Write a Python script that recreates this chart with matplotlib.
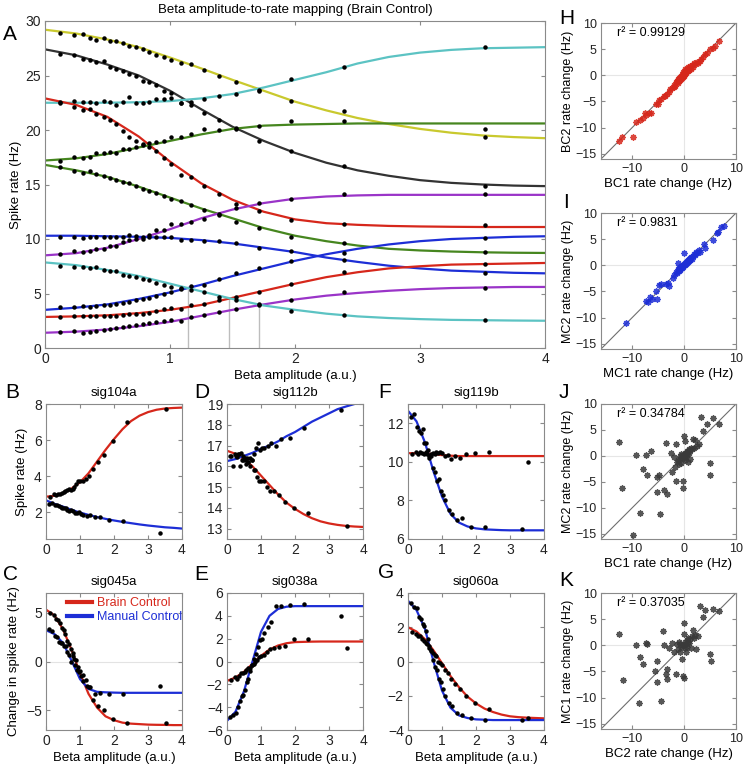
import matplotlib
matplotlib.use('Agg')
import matplotlib.pyplot as plt
from matplotlib.lines import Line2D

plt.rcParams['font.family'] = ['Liberation Sans', 'DejaVu Sans']

# ---- shared x positions ----
fit_x = [0, 0.25, 0.5, 0.75, 1.0, 1.25, 1.5, 1.75, 2.0, 2.25, 2.5, 2.75, 3.0, 3.25, 3.5, 3.75, 4.0]
bc_x = [0.12, 0.23, 0.30, 0.36, 0.41, 0.47, 0.52, 0.57, 0.62, 0.67, 0.73, 0.78, 0.83,
        0.89, 0.95, 1.01, 1.09, 1.17, 1.27, 1.39, 1.53, 1.71, 1.97, 2.39, 3.52]
mc_x = [0.10, 0.18, 0.25, 0.31, 0.37, 0.43, 0.48, 0.53, 0.58, 0.63, 0.68, 0.73, 0.78,
        0.84, 0.90, 0.96, 1.03, 1.10, 1.20, 1.30, 1.45, 1.60, 1.85, 2.27, 3.35]

# ---- panel A: fitted curves and binned rates ----
a_yellow_fit = [29.2, 28.85, 28.3, 27.6, 26.65, 25.65, 24.6, 23.6, 22.6, 21.8, 21.1, 20.55, 20.1, 19.75, 19.5, 19.35, 19.25]
a_yellow_pts = [28.9, 28.7, 28.8, 28.4, 28.3, 28.4, 28.2, 28.15, 28.0, 27.7, 27.65, 27.45, 27.2,
                26.9, 26.7, 26.45, 26.15, 26.05, 25.5, 25.0, 24.4, 23.7, 22.7, 21.7, 19.4]
a_black_fit = [27.4, 26.85, 26.0, 25.0, 23.6, 21.9, 20.3, 19.0, 17.9, 17.0, 16.3, 15.8, 15.4, 15.15, 15.0, 14.9, 14.85]
a_black_pts = [27.0, 26.85, 26.5, 26.4, 26.2, 26.3, 25.8, 25.6, 25.45, 25.1, 25.0, 24.5, 24.4,
               24.1, 23.55, 23.4, 22.5, 22.3, 21.6, 20.95, 20.1, 19.0, 18.1, 16.7, 14.9]
a_cyan1_fit = [22.5, 22.5, 22.5, 22.55, 22.65, 22.9, 23.3, 23.9, 24.6, 25.3, 26.1, 26.7, 27.1, 27.35, 27.5, 27.55, 27.6]
a_cyan1_pts = [22.5, 22.7, 22.6, 22.6, 22.5, 22.7, 22.6, 22.3, 22.6, 23.0, 22.5, 22.5, 22.6,
               22.85, 22.8, 22.9, 22.5, 22.6, 22.8, 23.1, 23.3, 23.6, 24.7, 25.8, 27.6]
a_red1_fit = [22.9, 22.3, 21.2, 19.4, 17.1, 15.1, 13.6, 12.5, 11.8, 11.45, 11.3, 11.2, 11.15, 11.12, 11.1, 11.1, 11.1]
a_red1_pts = [22.6, 22.15, 21.8, 21.9, 21.5, 21.2, 20.9, 20.55, 19.9, 19.4, 19.0, 18.7, 18.4,
              18.1, 17.4, 16.9, 15.9, 15.7, 14.9, 14.1, 13.2, 12.6, 11.7, 11.35, 11.3]
a_green1_fit = [17.2, 17.4, 17.8, 18.4, 19.0, 19.6, 20.1, 20.4, 20.5, 20.55, 20.6, 20.6, 20.6, 20.6, 20.6, 20.6, 20.6]
a_green1_pts = [17.2, 17.55, 17.4, 17.5, 17.9, 17.9, 18.0, 17.9, 18.25, 18.3, 18.4, 18.65, 18.8,
                18.9, 19.0, 19.4, 19.4, 19.6, 20.05, 20.0, 20.2, 20.35, 20.8, 20.85, 20.1]
a_green2_fit = [16.8, 16.3, 15.7, 14.8, 13.8, 12.8, 11.9, 11.0, 10.3, 9.8, 9.4, 9.1, 8.95, 8.85, 8.78, 8.74, 8.72]
a_green2_pts = [16.6, 16.2, 16.1, 16.2, 16.0, 15.8, 15.6, 15.4, 15.25, 15.1, 14.85, 14.6, 14.4,
                14.2, 13.9, 13.7, 13.5, 13.1, 12.7, 12.3, 11.6, 11.0, 10.2, 9.6, 8.8]
a_purple1_fit = [8.5, 8.7, 9.2, 10.0, 10.9, 11.9, 12.7, 13.3, 13.7, 13.9, 14.0, 14.05, 14.05, 14.05, 14.05, 14.05, 14.05]
a_purple1_pts = [8.6, 8.9, 8.8, 8.9, 9.1, 9.1, 9.4, 9.4, 9.7, 9.9, 10.0, 10.2, 10.4,
                 10.8, 10.8, 11.4, 11.4, 11.6, 11.8, 12.2, 12.8, 13.3, 13.7, 14.1, 14.1]
a_blue1_fit = [10.3, 10.3, 10.25, 10.2, 10.1, 9.9, 9.6, 9.2, 8.8, 8.3, 7.9, 7.55, 7.3, 7.1, 7.0, 6.9, 6.85]
a_blue1_pts = [10.2, 10.2, 10.1, 10.2, 10.2, 10.2, 10.2, 10.15, 10.2, 10.4, 10.3, 10.0, 10.2,
               10.2, 10.2, 10.2, 9.9, 9.9, 9.8, 9.8, 9.6, 9.2, 8.9, 8.05, 6.85]
a_blue2_fit = [3.5, 3.7, 4.0, 4.5, 5.1, 5.8, 6.6, 7.3, 8.0, 8.6, 9.1, 9.5, 9.8, 10.0, 10.1, 10.2, 10.25]
a_blue2_pts = [3.75, 3.8, 3.85, 3.8, 3.85, 3.9, 3.95, 4.0, 4.1, 4.25, 4.4, 4.5, 4.6,
               4.8, 5.0, 5.1, 5.5, 5.7, 5.8, 6.3, 6.85, 7.3, 8.0, 8.75, 10.1]
a_red2_fit = [2.85, 2.9, 3.0, 3.2, 3.5, 3.95, 4.6, 5.25, 5.9, 6.5, 6.95, 7.3, 7.5, 7.65, 7.7, 7.75, 7.8]
a_red2_pts = [2.8, 2.9, 2.9, 2.9, 2.9, 2.95, 2.95, 2.95, 3.05, 3.1, 3.1, 3.1, 3.25,
              3.4, 3.6, 3.7, 3.6, 3.9, 4.0, 4.4, 4.65, 5.1, 5.9, 7.0, 7.7]
a_purple2_fit = [1.4, 1.5, 1.7, 2.0, 2.4, 2.95, 3.5, 4.0, 4.45, 4.8, 5.05, 5.25, 5.4, 5.5, 5.55, 5.6, 5.6]
a_purple2_pts = [1.5, 1.55, 1.4, 1.5, 1.6, 1.65, 1.75, 1.85, 1.95, 2.0, 2.1, 2.2, 2.25,
                 2.4, 2.5, 2.6, 2.5, 2.85, 3.0, 3.3, 3.6, 3.95, 4.4, 5.1, 5.55]
a_cyan2_fit = [7.85, 7.6, 7.15, 6.6, 5.9, 5.2, 4.5, 3.9, 3.5, 3.15, 2.9, 2.75, 2.65, 2.58, 2.55, 2.52, 2.5]
a_cyan2_pts = [7.5, 7.4, 7.4, 7.35, 7.4, 7.15, 7.1, 7.1, 6.7, 6.6, 6.5, 6.3, 6.25,
               6.0, 5.75, 5.6, 5.4, 5.3, 5.15, 4.7, 4.4, 4.0, 3.4, 3.0, 2.55]
cross_x = [1.14, 1.47, 1.71]
cross_y = [5.45, 4.55, 3.95]

# ---- panels B-G: brain control (red) vs manual control (blue) ----
b_bc_fit = [2.85, 2.9, 3.05, 3.3, 3.65, 4.15, 4.8, 5.45, 6.05, 6.6, 7.05, 7.35, 7.55, 7.68, 7.75, 7.78, 7.8]
b_bc_pts = [2.85, 3.0, 2.95, 3.0, 3.0, 3.05, 3.1, 3.15, 3.25, 3.3, 3.2, 3.3, 3.4,
            3.55, 3.7, 3.75, 3.7, 3.85, 4.0, 4.4, 4.8, 5.15, 5.95, 7.0, 7.7]
b_mc_fit = [2.65, 2.45, 2.3, 2.12, 1.97, 1.84, 1.72, 1.62, 1.53, 1.45, 1.38, 1.31, 1.25, 1.2, 1.15, 1.12, 1.08]
b_mc_pts = [2.45, 2.5, 2.4, 2.4, 2.35, 2.3, 2.25, 2.2, 2.2, 2.1, 2.05, 2.1, 2.05,
            1.95, 1.95, 2.0, 1.9, 1.85, 1.8, 1.85, 1.75, 1.7, 1.55, 1.5, 0.85]

c_bc_fit = [5.3, 4.7, 3.3, 1.2, -1.2, -3.3, -4.7, -5.6, -6.0, -6.25, -6.35, -6.4, -6.45, -6.47, -6.48, -6.5, -6.5]
c_bc_pts = [5.0, 4.8, 4.3, 4.2, 3.9, 3.4, 3.2, 2.8, 2.1, 1.8, 1.3, 0.9, 0.3,
            0.2, -0.6, -1.0, -1.4, -1.9, -2.6, -3.9, -4.5, -5.0, -5.9, -6.3, -6.3]
c_mc_fit = [3.2, 2.8, 1.9, 0.1, -1.8, -2.8, -3.1, -3.15, -3.18, -3.2, -3.2, -3.2, -3.2, -3.2, -3.2, -3.2, -3.2]
c_mc_pts = [3.3, 3.1, 2.6, 2.5, 2.0, 1.9, 1.9, 1.6, 1.6, 1.0, 0.7, -0.1, 0.6,
            -0.4, -0.9, -1.1, -1.5, -2.0, -2.5, -2.6, -3.3, -3.2, -3.3, -3.3, -2.5]

d_bc_fit = [16.75, 16.6, 16.35, 16.0, 15.55, 15.1, 14.65, 14.25, 13.95, 13.7, 13.5, 13.35, 13.25, 13.18, 13.13, 13.1, 13.08]
d_bc_pts = [16.5, 16.6, 16.45, 16.6, 16.65, 16.3, 16.4, 16.1, 16.2, 16.0, 16.3, 15.8, 15.8,
            15.5, 15.3, 15.3, 15.3, 15.0, 14.8, 14.8, 14.6, 14.3, 14.0, 13.75, 13.15]
d_mc_fit = [16.25, 16.35, 16.5, 16.65, 16.85, 17.0, 17.2, 17.45, 17.65, 17.9, 18.15, 18.35, 18.55, 18.75, 18.88, 19.0, 19.15]
d_mc_pts = [16.5, 16.0, 16.5, 16.6, 16.0, 16.3, 16.5, 16.3, 16.4, 16.2, 16.4, 16.3, 16.6,
            16.9, 17.1, 16.8, 16.9, 16.9, 17.0, 17.1, 17.0, 17.3, 17.35, 17.85, 18.7]

e_bc_fit = [-1.7, -1.4, -0.9, -0.2, 0.5, 1.05, 1.4, 1.6, 1.7, 1.72, 1.74, 1.75, 1.75, 1.75, 1.75, 1.75, 1.75]
e_bc_pts = [-1.6, -1.4, -1.5, -1.3, -1.0, -1.0, -0.9, -0.75, -0.6, -0.55, -0.3, -0.2, 0.0,
            0.1, 0.4, 0.5, 0.6, 0.85, 1.1, 1.2, 1.25, 1.4, 1.95, 2.0, 1.2]
e_mc_fit = [-5.2, -4.4, -2.6, 0.0, 2.6, 4.0, 4.6, 4.8, 4.85, 4.85, 4.85, 4.85, 4.85, 4.85, 4.85, 4.85, 4.85]
e_mc_pts = [-4.9, -4.7, -4.5, -4.0, -3.5, -3.0, -2.9, -2.5, -1.8, -1.5, -0.8, -0.3, 0.2,
            0.7, 1.3, 1.9, 2.0, 2.5, 3.0, 3.5, 4.9, 4.85, 4.95, 5.0, 4.0]

f_bc_fit = [10.45, 10.45, 10.45, 10.4, 10.35, 10.32, 10.3, 10.3, 10.3, 10.3, 10.3, 10.3, 10.3, 10.3, 10.3, 10.3, 10.3]
f_bc_pts = [10.4, 10.5, 10.4, 10.5, 10.45, 10.4, 10.5, 10.4, 10.3, 10.4, 10.45, 10.4, 10.5,
            10.45, 10.5, 10.45, 10.3, 10.35, 10.15, 10.3, 10.2, 10.4, 10.45, 10.5, 10.0]
f_mc_fit = [12.65, 12.1, 11.0, 9.5, 8.2, 7.3, 6.85, 6.65, 6.55, 6.5, 6.48, 6.46, 6.45, 6.45, 6.45, 6.45, 6.45]
f_mc_pts = [12.3, 12.5, 11.8, 11.6, 11.5, 11.7, 11.0, 11.0, 10.6, 10.2, 10.3, 9.7, 9.5,
            9.0, 9.1, 8.5, 8.3, 8.0, 7.5, 7.3, 7.0, 7.1, 6.6, 6.6, 6.5]

g_bc_fit = [2.0, 1.75, 1.3, 0.65, -0.1, -0.85, -1.5, -2.05, -2.45, -2.75, -2.95, -3.1, -3.2, -3.25, -3.28, -3.3, -3.32]
g_bc_pts = [1.7, 1.6, 1.5, 1.5, 1.3, 1.2, 1.1, 1.0, 0.8, 0.7, 0.5, 0.4, 0.3,
            0.0, -0.1, -0.2, -0.5, -0.7, -1.0, -1.3, -1.6, -2.0, -2.4, -2.8, -3.3]
g_mc_fit = [3.55, 3.0, 1.9, 0.0, -1.7, -2.7, -3.15, -3.3, -3.38, -3.4, -3.42, -3.42, -3.42, -3.42, -3.42, -3.42, -3.42]
g_mc_pts = [3.4, 3.2, 3.1, 2.6, 2.5, 2.2, 2.1, 1.8, 1.3, 0.9, 0.6, 0.1, -0.3,
            -0.5, -1.0, -1.2, -1.6, -2.0, -2.4, -2.6, -3.0, -3.1, -3.3, -3.4, -3.4]

# ---- panels H-K: rate change comparisons (x, y) ----
h_pts = [(-12.6, -12.6), (-11.9, -11.7), (-9.8, -11.7), (-9.2, -9.0), (-8.4, -8.5), (-8.0, -8.2),
         (-7.6, -7.3), (-7.3, -7.6), (-6.8, -7.2), (-6.4, -7.3), (-5.4, -5.4), (-5.1, -5.5),
         (-4.8, -4.7), (-4.4, -4.5), (-3.9, -4.0), (-3.7, -3.9), (-3.3, -3.6), (-3.0, -3.2),
         (-2.7, -2.6), (-2.3, -2.4), (-2.0, -2.2), (-1.9, -1.8), (-1.7, -2.0), (-1.5, -1.3),
         (-1.4, -1.0), (-1.2, -1.4), (-1.1, -0.8), (-1.0, -1.1), (-0.9, -0.6), (-0.8, -0.9),
         (-0.7, -0.4), (-0.6, -0.7), (-0.5, -0.2), (-0.45, -0.6), (-0.4, 0.1), (-0.3, -0.3),
         (-0.25, 0.3), (-0.2, -0.1), (-0.15, 0.6), (-0.1, 0.2), (-0.05, -0.2), (0.0, 0.5),
         (0.05, 0.0), (0.1, 0.9), (0.15, 0.3), (0.2, 1.3), (0.25, 0.6), (0.3, 1.0), (0.4, 0.5),
         (0.5, 0.9), (0.6, 1.2), (0.7, 0.8), (0.8, 1.6), (0.9, 1.0), (1.0, 1.4), (1.1, 1.8),
         (1.3, 1.3), (1.5, 2.0), (1.7, 1.6), (1.9, 2.3), (2.1, 2.1), (2.4, 2.5), (2.7, 2.3),
         (3.0, 2.8), (3.3, 3.2), (3.7, 3.5), (4.0, 4.0), (4.5, 4.3), (5.0, 5.0), (5.6, 5.2),
         (6.0, 5.6), (6.8, 6.6)]
i_pts = [(-11.2, -11.0), (-7.4, -6.8), (-7.0, -7.1), (-6.6, -6.1), (-6.2, -6.4), (-5.4, -5.0),
         (-5.3, -6.5), (-4.9, -3.8), (-4.4, -3.6), (-3.4, -3.6), (-3.1, -3.3), (-3.0, -4.0),
         (-2.2, -2.4), (-2.0, -1.9), (-1.6, -1.2), (-1.4, -1.5), (-1.2, 0.4), (-1.1, -0.8),
         (-1.0, -1.1), (-0.9, -0.5), (-0.8, -0.9), (-0.7, -0.3), (-0.6, -0.6), (-0.5, -0.1),
         (-0.4, -0.5), (-0.3, 0.1), (-0.2, -0.3), (-0.1, 0.3), (0.0, 2.4), (0.0, 0.0), (0.1, 0.4),
         (0.2, 0.1), (0.3, 0.6), (0.4, 0.3), (0.5, 0.8), (0.6, 0.5), (0.7, 1.0), (0.8, 0.7),
         (0.9, 1.2), (1.0, 0.9), (1.1, 1.4), (1.2, 1.1), (1.4, 1.6), (1.5, 1.3), (1.7, 1.8),
         (1.9, 2.1), (2.1, 1.9), (2.2, 2.6), (2.5, 2.3), (2.8, 2.9), (3.0, 2.5), (3.8, 4.0),
         (4.0, 3.3), (5.5, 4.8), (6.4, 6.1), (6.6, 6.3), (7.2, 7.3), (7.6, 7.6)]
j_pts = [(-12.6, 2.6), (-11.9, -6.2), (-9.8, -15.2), (-9.2, 0.1), (-8.5, -10.9), (-7.9, -2.6),
         (-7.4, 0.1), (-7.1, -3.7), (-6.4, 1.0), (-5.3, -4.0), (-5.2, -7.0), (-4.8, -3.6),
         (-4.6, -11.2), (-3.9, -6.6), (-3.4, 2.4), (-3.3, -7.3), (-2.6, 0.6), (-2.3, -3.1),
         (-2.0, -0.2), (-1.8, -2.1), (-1.6, 2.3), (-1.5, -4.9), (-1.3, -1.1), (-1.1, -0.7),
         (-1.0, -1.6), (-0.8, 0.0), (-0.7, -0.6), (-0.6, -1.3), (-0.5, 0.4), (-0.4, -0.3),
         (-0.3, -4.9), (-0.3, -6.1), (-0.2, 0.2), (-0.1, -0.4), (0.0, 0.0), (0.0, 3.9),
         (0.1, 0.5), (0.1, -0.8), (0.2, 2.8), (0.3, 0.3), (0.4, -0.2), (0.5, 1.0), (0.6, 0.4),
         (0.7, -1.2), (0.8, 0.9), (0.9, 1.4), (1.0, 0.6), (1.1, 1.2), (1.2, -0.6), (1.4, 1.5),
         (1.6, 1.3), (1.8, 3.2), (2.0, 1.6), (2.1, 3.1), (2.5, 2.0), (2.8, 2.3), (3.2, 7.5),
         (3.6, 4.8), (4.4, 6.1), (5.0, -1.4), (5.0, -3.7), (5.6, 7.4), (6.8, 6.2)]
k_pts = [(-12.6, 2.2), (-11.8, -6.7), (-9.2, 0.1), (-8.6, -11.0), (-8.4, -2.2), (-7.9, -3.6),
         (-7.4, 0.4), (-7.2, 0.2), (-5.6, -5.0), (-5.3, -3.0), (-5.2, -7.0), (-4.4, -10.6),
         (-4.0, 2.8), (-3.8, 0.0), (-3.5, -5.4), (-3.2, -4.5), (-3.2, -6.4), (-2.9, -0.6),
         (-2.4, 0.5), (-2.0, -1.2), (-1.6, -5.5), (-1.4, 0.2), (-1.2, -0.8), (-1.0, 0.6),
         (-0.8, -1.3), (-0.7, 0.3), (-0.5, -0.4), (-0.4, -2.6), (-0.3, 0.1), (-0.3, -5.9),
         (-0.1, -6.2), (-0.1, 4.3), (0.0, 0.0), (0.0, 2.1), (0.1, -0.5), (0.2, 0.6), (0.3, -1.3),
         (0.4, 0.3), (0.5, 1.0), (0.6, -0.3), (0.7, 0.7), (0.8, 1.4), (1.0, 0.4), (1.1, 1.2),
         (1.3, -0.5), (1.5, 1.8), (1.7, 2.9), (2.0, 1.4), (2.1, 2.0), (2.3, -0.8), (2.6, 1.8),
         (3.0, 7.5), (3.6, 5.5), (4.0, 6.8), (4.9, -1.6), (5.2, -3.0), (5.5, 7.0), (6.8, 6.5)]

YELLOW, BLACK, CYAN, RED = '#c9c92e', '#333333', '#5cc3c3', '#d6271b'
GREEN, PURPLE, BLUE = '#46861f', '#9a34c8', '#1d2ed6'
AXC = '#8a8a8a'

W, H = 747, 766
fig = plt.figure(figsize=(W / 100, H / 100), dpi=100)


def add_ax(l, t, r, b):
    return fig.add_axes([l / W, 1 - b / H, (r - l) / W, (b - t) / H])


def style(ax, size=10):
    for s in ax.spines.values():
        s.set_color(AXC)
        s.set_linewidth(0.8)
    ax.tick_params(direction='in', top=True, right=True, color=AXC, length=3,
                   labelsize=size, labelcolor='#222222', pad=3)


def letter(x, y, s):
    fig.text(x / W, 1 - y / H, s, fontsize=15, ha='left', va='center')


# ---------------- A ----------------
axA = add_ax(45, 21, 545, 348)
a_series = [(a_yellow_fit, a_yellow_pts, YELLOW), (a_black_fit, a_black_pts, BLACK),
            (a_cyan1_fit, a_cyan1_pts, CYAN), (a_red1_fit, a_red1_pts, RED),
            (a_green1_fit, a_green1_pts, GREEN), (a_green2_fit, a_green2_pts, GREEN),
            (a_purple1_fit, a_purple1_pts, PURPLE), (a_blue1_fit, a_blue1_pts, BLUE),
            (a_blue2_fit, a_blue2_pts, BLUE), (a_red2_fit, a_red2_pts, RED),
            (a_purple2_fit, a_purple2_pts, PURPLE), (a_cyan2_fit, a_cyan2_pts, CYAN)]
axA.vlines(cross_x, 0, cross_y, color='#bdbdbd', lw=1, zorder=1)
for fit, pts, col in a_series:
    axA.plot(fit_x, fit, color=col, lw=1.6, zorder=2)
    axA.plot(bc_x, pts, 'o', color='k', ms=2.2, zorder=3)
axA.set_xlim(0, 4)
axA.set_ylim(0, 30)
axA.set_xticks([0, 1, 2, 3, 4])
axA.set_yticks([0, 5, 10, 15, 20, 25, 30])
style(axA)
axA.set_title('Beta amplitude-to-rate mapping (Brain Control)', fontsize=9.5, pad=6)
axA.set_xlabel('Beta amplitude (a.u.)', fontsize=9.5, labelpad=3)
axA.set_ylabel('Spike rate (Hz)', fontsize=9.5, labelpad=2)
letter(3, 35, 'A')

# ---------------- B-G ----------------
panels = [
    ('B', 'sig104a', (46, 404, 182, 539), b_bc_fit, b_bc_pts, b_mc_fit, b_mc_pts, (0.5, 8), [2, 4, 6, 8], (5, 393)),
    ('D', 'sig112b', (227, 404, 363, 539), d_bc_fit, d_bc_pts, d_mc_fit, d_mc_pts, (12.5, 19), [13, 14, 15, 16, 17, 18, 19], (194, 393)),
    ('F', 'sig119b', (408, 404, 544, 539), f_bc_fit, f_bc_pts, f_mc_fit, f_mc_pts, (6, 13), [6, 8, 10, 12], (378, 392)),
    ('C', 'sig045a', (46, 593, 182, 730), c_bc_fit, c_bc_pts, c_mc_fit, c_mc_pts, (-7, 7), [-5, 0, 5], (3, 575)),
    ('E', 'sig038a', (227, 593, 363, 730), e_bc_fit, e_bc_pts, e_mc_fit, e_mc_pts, (-6, 6), [-6, -4, -2, 0, 2, 4, 6], (194, 575)),
    ('G', 'sig060a', (408, 593, 544, 730), g_bc_fit, g_bc_pts, g_mc_fit, g_mc_pts, (-4, 4), [-4, -2, 0, 2, 4], (378, 572)),
]
for lab, title, box, bcf, bcp, mcf, mcp, ylim, yt, lpos in panels:
    ax = add_ax(*box)
    if lab in 'CEG':
        ax.axhline(0, color='#e3e3e3', lw=0.8, zorder=0)
    ax.plot(fit_x, bcf, color=RED, lw=1.6, zorder=2)
    ax.plot(fit_x, mcf, color=BLUE, lw=1.6, zorder=2)
    ax.plot(bc_x, bcp, 'o', color='k', ms=2.2, zorder=3)
    ax.plot(mc_x, mcp, 'o', color='k', ms=2.2, zorder=3)
    ax.set_xlim(0, 4)
    ax.set_ylim(*ylim)
    ax.set_xticks([0, 1, 2, 3, 4])
    ax.set_yticks(yt)
    style(ax)
    ax.set_title(title, fontsize=9.5, pad=6)
    if lab in 'CEG':
        ax.set_xlabel('Beta amplitude (a.u.)', fontsize=9.5, labelpad=3)
    if lab == 'B':
        ax.set_ylabel('Spike rate (Hz)', fontsize=9.5)
    if lab == 'C':
        ax.set_ylabel('Change in spike rate (Hz)', fontsize=9.5)
        handles = [Line2D([], [], color=RED, lw=3), Line2D([], [], color=BLUE, lw=3)]
        ax.legend(handles, ['Brain Control', 'Manual Control'], loc='upper right',
                  bbox_to_anchor=(1.0, 0.97), frameon=False, fontsize=9,
                  labelcolor='linecolor', handlelength=2.0, handletextpad=0.4,
                  labelspacing=0.15, borderaxespad=0, borderpad=0)
    letter(lpos[0], lpos[1], lab)

# ---------------- H-K ----------------
scatter_panels = [
    ('H', (601, 23, 736, 159), h_pts, RED, 'BC1 rate change (Hz)', 'BC2 rate change (Hz)', 'r² = 0.99129', (559, 18)),
    ('I', (601, 213, 736, 349), i_pts, BLUE, 'MC1 rate change (Hz)', 'MC2 rate change (Hz)', 'r² = 0.9831', (563, 203)),
    ('J', (601, 404, 736, 539), j_pts, '#3a3a3a', 'BC1 rate change (Hz)', 'MC2 rate change (Hz)', 'r² = 0.34784', (559, 392)),
    ('K', (601, 593, 736, 729), k_pts, '#3a3a3a', 'BC2 rate change (Hz)', 'MC1 rate change (Hz)', 'r² = 0.37035', (559, 580)),
]
for lab, box, pts, col, xl, yl, r2, lpos in scatter_panels:
    ax = add_ax(*box)
    ax.axhline(0, color='#e6e6e6', lw=0.8, zorder=0)
    ax.axvline(0, color='#e6e6e6', lw=0.8, zorder=0)
    ax.plot([-16, 10], [-16, 10], color='#6e6e6e', lw=0.8, zorder=1)
    xs = [p[0] for p in pts]
    ys = [p[1] for p in pts]
    ax.plot(xs, ys, linestyle='none', marker=(8, 2, 0), ms=4.5, mew=1.0, color=col,
            alpha=0.85, zorder=2)
    ax.set_xlim(-16, 10)
    ax.set_ylim(-16, 10)
    ax.set_xticks([-10, 0, 10])
    ax.set_yticks([-15, -10, -5, 0, 5, 10])
    style(ax, size=9)
    ax.set_xlabel(xl, fontsize=9.5, labelpad=2)
    ax.set_ylabel(yl, fontsize=9, labelpad=1)
    ax.text(-13, 8, r2, fontsize=9, va='center', ha='left')
    letter(lpos[0], lpos[1], lab)

fig.savefig('out.png', dpi=100)
